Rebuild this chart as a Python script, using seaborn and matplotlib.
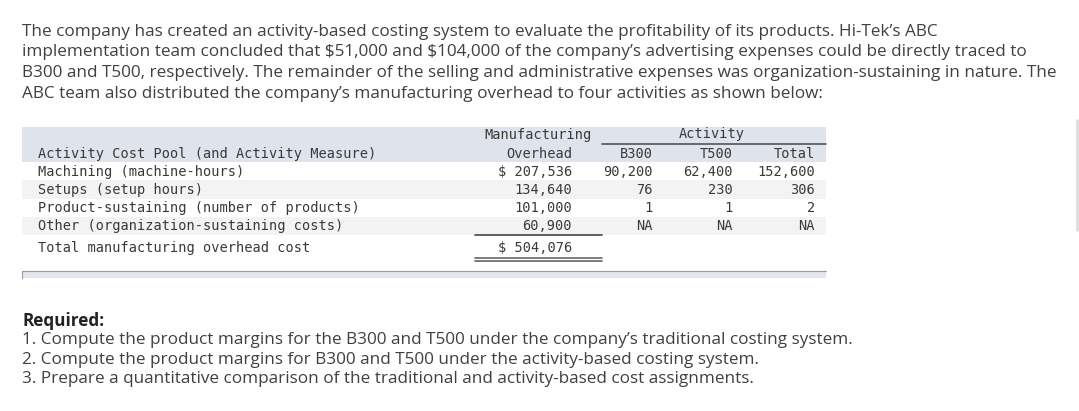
import seaborn as sns
import matplotlib.pyplot as plt

# problem text
intro_lines = [
    "The company has created an activity-based costing system to evaluate the profitability of its products. Hi-Tek\u2019s ABC",
    "implementation team concluded that \\$51,000 and \\$104,000 of the company\u2019s advertising expenses could be directly traced to",
    "B300 and T500, respectively. The remainder of the selling and administrative expenses was organization-sustaining in nature. The",
    "ABC team also distributed the company\u2019s manufacturing overhead to four activities as shown below:",
]
required_lines = [
    "1. Compute the product margins for the B300 and T500 under the company\u2019s traditional costing system.",
    "2. Compute the product margins for B300 and T500 under the activity-based costing system.",
    "3. Prepare a quantitative comparison of the traditional and activity-based cost assignments.",
]

# table data
pools = ["Machining (machine-hours)", "Setups (setup hours)",
         "Product-sustaining (number of products)", "Other (organization-sustaining costs)"]
overhead = [207536, 134640, 101000, 60900]
b300 = [90200, 76, 1, None]
t500 = [62400, 230, 1, None]
total = [152600, 306, 2, None]

sns.set_style("white")
fig = plt.figure(figsize=(10.79, 4.11), dpi=100)
ax = fig.add_axes([0, 0, 1, 1])
ax.set_xlim(0, 1079)
ax.set_ylim(411, 0)
ax.axis("off")

body = "#404040"
sans = ["Open Sans", "DejaVu Sans"]
mono = ["DejaVu Sans Mono"]
pfs = 12.35

for i, line in enumerate(intro_lines):
    ax.text(22, 32 + i * 20.5, line, fontsize=pfs, color=body, family=sans, va="center")

ax.text(22, 321, "Required:", fontsize=pfs, color="#222222", family=sans,
        fontweight="bold", va="center")
for i, line in enumerate(required_lines):
    ax.text(22, 340 + i * 19.5, line, fontsize=pfs, color=body, family=sans, va="center")

# table backgrounds
ax.fill_between([22, 826], 127, 162, color="#dfe3ec", lw=0)
row_y = [171.5, 189.5, 207.5, 225.5]
for i, y in enumerate(row_y):
    if i % 2 == 1:
        ax.fill_between([22, 826], y - 9, y + 9, color="#f3f3f3", lw=0)
ax.fill_between([22, 826], 271, 278, color="#e4e7ee", lw=0)
ax.plot([22, 826], [271, 271], color="#9a9a9a", lw=0.8)
ax.plot([22, 22], [271, 278], color="#9a9a9a", lw=0.8)

mfs = 9.85
tc = "#3a3a3a"
# header
ax.text(538, 135, "Manufacturing", fontsize=mfs, family=mono, color=tc, ha="center", va="center")
ax.text(572, 153.5, "Overhead", fontsize=mfs, family=mono, color=tc, ha="right", va="center")
ax.text(712, 134, "Activity", fontsize=mfs, family=mono, color=tc, ha="center", va="center")
ax.plot([602, 826], [144, 144], color="#555555", lw=1.2)
ax.text(38, 154, "Activity Cost Pool (and Activity Measure)", fontsize=mfs, family=mono,
        color=tc, va="center")
ax.text(653, 153.5, "B300", fontsize=mfs, family=mono, color=tc, ha="right", va="center")
ax.text(733, 153.5, "T500", fontsize=mfs, family=mono, color=tc, ha="right", va="center")
ax.text(815, 153.5, "Total", fontsize=mfs, family=mono, color=tc, ha="right", va="center")


def fmt(v):
    return "NA" if v is None else f"{v:,}"


for i, y in enumerate(row_y):
    ax.text(38, y, pools[i], fontsize=mfs, family=mono, color=tc, va="center")
    oh = fmt(overhead[i])
    if i == 0:
        oh = "\\$ " + oh
    ax.text(572, y, oh, fontsize=mfs, family=mono, color=tc, ha="right", va="center")
    ax.text(653, y, fmt(b300[i]), fontsize=mfs, family=mono, color=tc, ha="right", va="center")
    ax.text(733, y, fmt(t500[i]), fontsize=mfs, family=mono, color=tc, ha="right", va="center")
    ax.text(815, y, fmt(total[i]), fontsize=mfs, family=mono, color=tc, ha="right", va="center")

ax.plot([475, 602], [234.5, 234.5], color="#444444", lw=1.2)
ax.text(38, 248, "Total manufacturing overhead cost", fontsize=mfs, family=mono, color=tc, va="center")
ax.text(572, 248, "\\$ " + fmt(sum(overhead)), fontsize=mfs, family=mono, color=tc,
        ha="right", va="center")
ax.plot([475, 602], [258, 258], color="#666666", lw=1.2)
ax.plot([475, 602], [261, 261], color="#666666", lw=1.2)

# scrollbar hint on right edge
ax.plot([1077, 1077], [120, 230], color="#dddddd", lw=2)

fig.savefig("out.png", dpi=100)
